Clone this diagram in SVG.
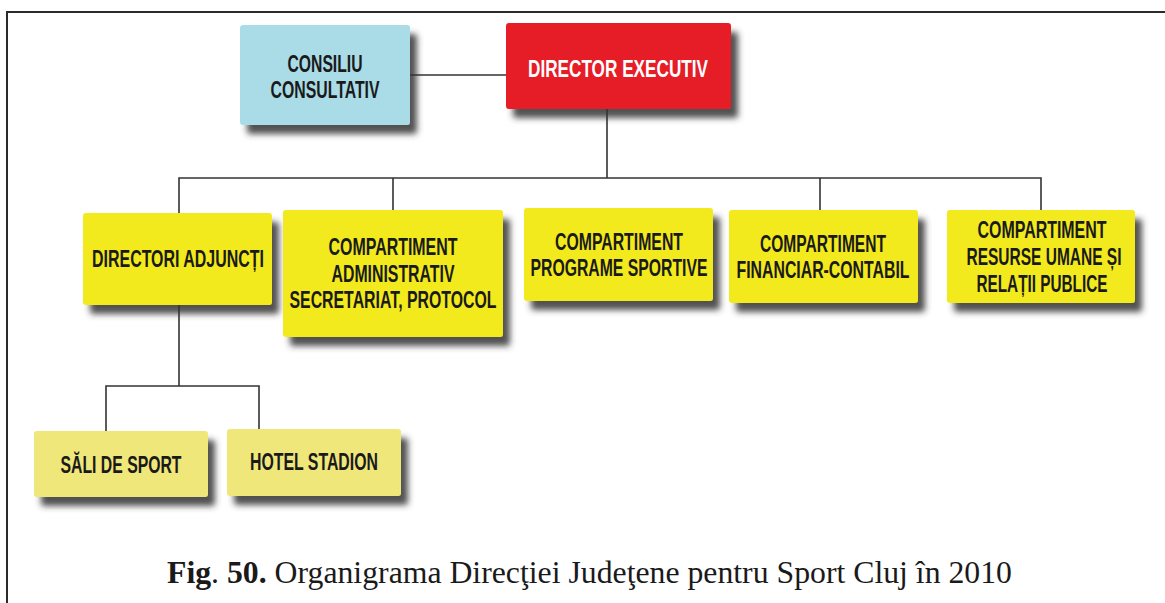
<svg xmlns="http://www.w3.org/2000/svg" width="1165" height="603" viewBox="0 0 1165 603">
<defs>
<filter id="sh" x="-10%" y="-10%" width="130%" height="140%">
<feDropShadow dx="7" dy="9" stdDeviation="3" flood-color="#333333" flood-opacity="0.85"/>
</filter>
<style>
.frame{fill:none;stroke:#2b2b2b;stroke-width:2}
.con{fill:none;stroke:#333;stroke-width:1.6}
.box{filter:url(#sh)}
.yel{fill:#f2ea1c}
.ly{fill:#efe77a}
.blu{fill:#a9dce7}
.red{fill:#e61e26}
.t{font-family:"Liberation Sans",Arial,sans-serif;font-weight:bold;font-size:23px;fill:#1a1a1a;text-anchor:middle}
.w{fill:#ffffff}
.cap{font-family:"Liberation Serif","Times New Roman",serif;font-size:31px;fill:#1a1a1a}
</style>
</defs>
<rect width="1165" height="603" fill="#ffffff"/>
<path class="frame" d="M7,604 V12 H1166"/>
<g id="connectors">
<path class="con" d="M410,75 H506"/>
<path class="con" d="M607,109 V178"/>
<path class="con" d="M179,213 V178 H1041 V210"/>
<path class="con" d="M393,178 V210"/>
<path class="con" d="M820,178 V210"/>
<path class="con" d="M179,305 V386"/>
<path class="con" d="M106,431 V386 H259 V429"/>
</g>
<g id="consiliu">
<rect class="box blu" x="240" y="25" width="170" height="100" rx="3"/>
<text class="t" x="325" y="72" textLength="75" lengthAdjust="spacingAndGlyphs">CONSILIU</text>
<text class="t" x="325" y="98" textLength="109" lengthAdjust="spacingAndGlyphs">CONSULTATIV</text>
</g>
<g id="director">
<rect class="box red" x="506" y="23" width="225" height="86" rx="3"/>
<text class="t w" x="618" y="77" textLength="180" lengthAdjust="spacingAndGlyphs">DIRECTOR EXECUTIV</text>
</g>
<g id="adjuncti">
<rect class="box yel" x="83" y="213" width="189" height="92" rx="3"/>
<text class="t" x="178" y="267" textLength="172" lengthAdjust="spacingAndGlyphs">DIRECTORI ADJUNCȚI</text>
</g>
<g id="administrativ">
<rect class="box yel" x="283" y="210" width="220" height="127" rx="3"/>
<text class="t" x="393" y="255" textLength="129" lengthAdjust="spacingAndGlyphs">COMPARTIMENT</text>
<text class="t" x="393" y="282" textLength="123" lengthAdjust="spacingAndGlyphs">ADMINISTRATIV</text>
<text class="t" x="393" y="308" textLength="207" lengthAdjust="spacingAndGlyphs">SECRETARIAT, PROTOCOL</text>
</g>
<g id="programe">
<rect class="box yel" x="524" y="208" width="189" height="93" rx="3"/>
<text class="t" x="619" y="250" textLength="128" lengthAdjust="spacingAndGlyphs">COMPARTIMENT</text>
<text class="t" x="619" y="276" textLength="177" lengthAdjust="spacingAndGlyphs">PROGRAME SPORTIVE</text>
</g>
<g id="financiar">
<rect class="box yel" x="729" y="210" width="189" height="93" rx="3"/>
<text class="t" x="823" y="252" textLength="126" lengthAdjust="spacingAndGlyphs">COMPARTIMENT</text>
<text class="t" x="823" y="278" textLength="173" lengthAdjust="spacingAndGlyphs">FINANCIAR-CONTABIL</text>
</g>
<g id="resurse">
<rect class="box yel" x="947" y="210" width="188" height="93" rx="3"/>
<text class="t" x="1042" y="238" textLength="129" lengthAdjust="spacingAndGlyphs">COMPARTIMENT</text>
<text class="t" x="1044" y="265" textLength="155" lengthAdjust="spacingAndGlyphs">RESURSE UMANE ȘI</text>
<text class="t" x="1042" y="292" textLength="131" lengthAdjust="spacingAndGlyphs">RELAȚII PUBLICE</text>
</g>
<g id="sali">
<rect class="box ly" x="34" y="431" width="174" height="66" rx="3"/>
<text class="t" x="121" y="473" textLength="121" lengthAdjust="spacingAndGlyphs">SĂLI DE SPORT</text>
</g>
<g id="hotel">
<rect class="box ly" x="227" y="429" width="174" height="67" rx="3"/>
<text class="t" x="314" y="470" textLength="128" lengthAdjust="spacingAndGlyphs">HOTEL STADION</text>
</g>
<text class="cap" x="167" y="583" textLength="845" lengthAdjust="spacingAndGlyphs"><tspan font-weight="bold">Fig</tspan>. <tspan font-weight="bold">50.</tspan> Organigrama Direcţiei Judeţene pentru Sport Cluj în 2010</text>
</svg>
